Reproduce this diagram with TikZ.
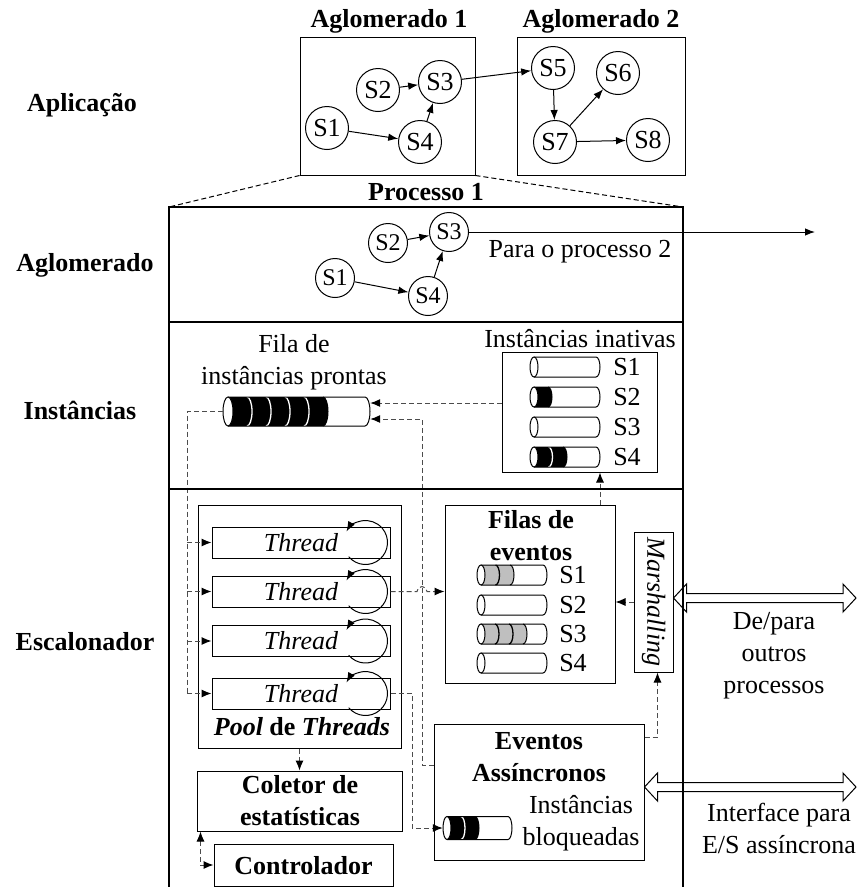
\documentclass[tikz,border=0pt]{standalone}
\usepackage{fontspec}
\setmainfont{Liberation Serif}
\usetikzlibrary{arrows.meta,calc}

\tikzset{
  lbl/.style={font=\fontsize{26}{32}\selectfont\bfseries, align=center, inner sep=0pt},
  txt/.style={font=\fontsize{26}{32}\selectfont, align=center, inner sep=0pt},
  svc/.style={circle, draw, line width=1pt, minimum size=43pt, inner sep=0pt, font=\fontsize{26}{28}\selectfont},
  svcs/.style={circle, draw, line width=1pt, minimum size=39pt, inner sep=0pt, font=\fontsize{24}{26}\selectfont},
  tip/.style={line width=1pt, -{Latex[length=10pt,width=7.5pt]}},
  dsh/.style={draw=black!70, line width=1pt, dash pattern=on 5pt off 3pt},
  dshar/.style={dsh, -{Latex[length=10pt,width=8pt,color=black]}},
  dshdbl/.style={dsh, {Latex[length=10pt,width=8pt,color=black]}-{Latex[length=10pt,width=8pt,color=black]}},
  box/.style={draw, line width=1pt, rectangle, inner sep=0pt},
  thr/.style={box, minimum width=178pt, minimum height=31pt, font=\fontsize{26}{28}\selectfont\itshape},
  slot/.style={rectangle, inner sep=0pt},
}

% horizontal cylinder queue:
% #1 x of left end, #2 centre y, #3 body length, #4 half height, #5 end radius,
% #6 filled slices, #7 slice colour, #8 separator colour, #9 slice width
\newcommand\cylq[9]{%
  \fill[white] (#1,#2-#4) -- ++(#3,0) arc[start angle=-90,end angle=90,x radius=#5,y radius=#4]
     -- (#1,#2+#4) arc[start angle=90,end angle=270,x radius=#5,y radius=#4] -- cycle;
  \ifnum#6>0
    \fill[#7] (#1,#2-#4) -- ++(#6*#9,0) arc[start angle=-90,end angle=90,x radius=#5,y radius=#4]
       -- (#1,#2+#4) -- cycle;
    \draw[line width=1pt] (#1+#6*#9,#2-#4) arc[start angle=-90,end angle=90,x radius=#5,y radius=#4];
  \fi
  \ifnum#6>1
    \foreach \k in {2,...,#6}{\draw[#8, line width=1.3pt] (#1+\k*#9-#9,#2-#4) arc[start angle=-90,end angle=90,x radius=#5,y radius=#4];}
  \fi
  \draw[line width=1pt] (#1,#2-#4) -- ++(#3,0) arc[start angle=-90,end angle=90,x radius=#5,y radius=#4]
     -- (#1,#2+#4);
  \draw[line width=1pt, fill=white] (#1,#2) ellipse[x radius=#5, y radius=#4];
}

% hollow double-headed arrow between two points at the same height
\newcommand\hollowdarrow[2]{%
  \draw[line width=1pt] (#1) -- ($(#1)+(13,-14)$) -- ($(#1)+(13,-4.5)$) -- ($(#2)+(-13,-4.5)$)
    -- ($(#2)+(-13,-14)$) -- (#2) -- ($(#2)+(-13,14)$) -- ($(#2)+(-13,4.5)$)
    -- ($(#1)+(13,4.5)$) -- ($(#1)+(13,14)$) -- cycle;
}

\begin{document}
\begin{tikzpicture}[x=1pt,y=-1pt]
\useasboundingbox (0,0) rectangle (860,887);

% level labels
\node[lbl] (lapp) at (82,105) {Aplicação};
\node[lbl] (lagl) at (85,265) {Aglomerado};
\node[lbl] (lins) at (80,410) {Instâncias};
\node[lbl] (lesc) at (85,642) {Escalonador};

% application: two clusters of services
\node[box, minimum width=175pt, minimum height=138pt] (ag1) at (387.5,106) {};
\node[box, minimum width=168pt, minimum height=138pt] (ag2) at (601,106) {};
\node[lbl] (tag1) at (389,21) {Aglomerado 1};
\node[lbl] (tag2) at (601,21) {Aglomerado 2};
\node[svc] (a1) at (327,128) {S1};
\node[svc] (a2) at (378,90) {S2};
\node[svc] (a3) at (440,82) {S3};
\node[svc] (a4) at (420,142) {S4};
\node[svc] (a5) at (553,68) {S5};
\node[svc] (a6) at (618,73) {S6};
\node[svc] (a7) at (555,142) {S7};
\node[svc] (a8) at (648,140) {S8};
\draw[tip] (a1) -- (a4);
\draw[tip] (a2) -- (a3);
\draw[tip] (a4) -- (a3);
\draw[tip] (a3) -- (a5);
\draw[tip] (a5) -- (a7);
\draw[tip] (a7) -- (a6);
\draw[tip] (a7) -- (a8);

% process frame
\coordinate (ptl) at (169,207);
\coordinate (ptr) at (683,207);
\coordinate (pbl) at (169,887);
\coordinate (pbr) at (683,887);
\coordinate (d1l) at (169,322);
\coordinate (d1r) at (683,322);
\coordinate (d2l) at (169,489);
\coordinate (d2r) at (683,489);
\draw[line width=1pt, dash pattern=on 5pt off 3pt] (ag1.south west) -- (ptl);
\draw[line width=1pt, dash pattern=on 5pt off 3pt] (ag1.south east) -- (ptr);
\node[lbl] (tproc) at (426,192) {Processo 1};

% cluster inside the process
\node[svcs] (m1) at (335,278) {S1};
\node[svcs] (m2) at (388,243) {S2};
\node[svcs] (m3) at (449,232) {S3};
\node[svcs] (m4) at (428,296) {S4};
\coordinate (p2) at (815,232);
\draw[tip] (m1) -- (m4);
\draw[tip] (m2) -- (m3);
\draw[tip] (m4) -- (m3);
\draw[tip] (m3) -- (p2);
\node[txt] (tp2) at (580,252) {Para o processo 2};

% instances level
\node[txt] (tfila) at (294,362) {Fila de\\instâncias prontas};
\node[slot, minimum width=147pt, minimum height=29pt] (rq) at (296.5,411.5) {};
\cylq{228}{411.5}{137}{14.5}{5}{5}{black}{white}{19}

\node[txt] (tina) at (580,339) {Instâncias inativas};
\node[box, minimum width=155pt, minimum height=120pt] (ina) at (579.5,412) {};
\cylq{534}{367}{62}{10}{4}{0}{black}{white}{14}
\cylq{534}{397}{62}{10}{4}{1}{black}{white}{14}
\cylq{534}{427}{62}{10}{4}{0}{black}{white}{14}
\cylq{534}{457}{62}{10}{4}{2}{black}{white}{14.5}
\node[txt] (i1) at (627,367) {S1};
\node[txt] (i2) at (627,397) {S2};
\node[txt] (i3) at (627,427) {S3};
\node[txt] (i4) at (627,457) {S4};

% scheduler level
\node[box, minimum width=203pt, minimum height=243pt] (pool) at (299.5,626.5) {};
\node[thr] (th1) at (301,542.5) {Thread};
\node[thr] (th2) at (301,591.5) {Thread};
\node[thr] (th3) at (301,641) {Thread};
\node[thr] (th4) at (301,693.5) {Thread};
\foreach \t in {th1,th2,th3,th4}{
  \draw[tip] ($(\t.east)+(-25,0)+(-220:22)$) arc[start angle=-220,end angle=-510,radius=22];
}
\node[lbl] (tpool) at (302,727) {\textit{Pool} de \textit{Threads}};

\node[box, minimum width=170pt, minimum height=178pt] (filas) at (530,594) {};
\node[lbl] (tfilas) at (531,536) {Filas de\\eventos};
\cylq{481}{575}{62}{10}{4}{2}{black!25}{black}{14.5}
\cylq{481}{605}{62}{10}{4}{0}{black!25}{black}{14}
\cylq{481}{634}{62}{10}{4}{3}{black!25}{black}{14}
\cylq{481}{663}{62}{10}{4}{0}{black!25}{black}{14}
\node[txt] (f1) at (573,575) {S1};
\node[txt] (f2) at (573,605) {S2};
\node[txt] (f3) at (573,634) {S3};
\node[txt] (f4) at (573,663) {S4};

\node[box, minimum width=39pt, minimum height=140pt] (marsh) at (653.5,602) {};
\node[font=\fontsize{26}{28}\selectfont\itshape, rotate=-90, inner sep=0pt] (tmarsh) at (marsh) {Marshalling};

\node[box, minimum width=210pt, minimum height=136pt] (evt) at (539,792) {};
\node[lbl] (tevt) at (539,757.5) {Eventos\\Assíncronos};
\node[txt] (tblk) at (581,823.5) {Instâncias\\bloqueadas};
\node[slot, minimum width=69pt, minimum height=23pt] (blk) at (477.5,828) {};
\cylq{447}{828}{61}{11.5}{4}{2}{black}{white}{14}

\node[box, minimum width=205pt, minimum height=60pt] (col) at (299.5,801) {};
\node[lbl] (tcol) at (300,800.5) {Coletor de\\estatísticas};
\node[box, minimum width=179pt, minimum height=42pt] (ctl) at (303.5,865) {};
\node[lbl] (tctl) at (303.5,866) {Controlador};

% dashed control and data flows
\coordinate (bus) at (187,693.5);
\coordinate (j1) at (422,419);
\coordinate (j2) at (412,700);
\draw[dshar] ([yshift=9pt]ina.west) -- ([yshift=9pt]ina.west -| rq.east);
\draw[dshar] ([yshift=27pt]evt.west) -| (j1) -- (j1 -| rq.east);
\draw[dsh] (rq.west) -| (bus);
\foreach \t in {th1,th2,th3,th4}{\draw[dshar] (bus |- \t.west) -- (\t.west);}
\draw[dshar] (th2.east) -- ($(th2.east -| j1)+(-5,0)$) arc[start angle=180,end angle=360,radius=5] -- (th2.east -| filas.west);
\draw[dshar] (th4.east) -| (j2 |- blk.west) -- (blk.west);
\draw[dshar] ([xshift=70pt]filas.north) -- ([xshift=70pt]filas.north |- ina.south);
\draw[dshar] (marsh.west) -- (marsh.west -| filas.east);
\draw[dshar] ([yshift=55pt]evt.east) -| ([xshift=4pt]marsh.south);
\draw[dshar] (pool.south) -- (col.north);
\draw[dshdbl] ([xshift=4pt]col.south west) |- (ctl.west);

% external interfaces
\path ([yshift=4pt]marsh.east) coordinate (outL);
\coordinate (outR) at (856,598);
\hollowdarrow{outL}{outR}
\path ([yshift=5pt]evt.east) coordinate (ioL);
\coordinate (ioR) at (856,787);
\hollowdarrow{ioL}{ioR}
\node[txt] (tout) at (774,656) {De/para\\outros\\processos};
\node[txt] (tio) at (779,828) {Interface para\\E/S assíncrona};

% process frame on top
\draw[line width=2pt] (pbl) -- (ptl) -- (ptr) -- (pbr);
\draw[line width=2pt] (d1l) -- (d1r);
\draw[line width=2pt] (d2l) -- (d2r);
\end{tikzpicture}
\end{document}
